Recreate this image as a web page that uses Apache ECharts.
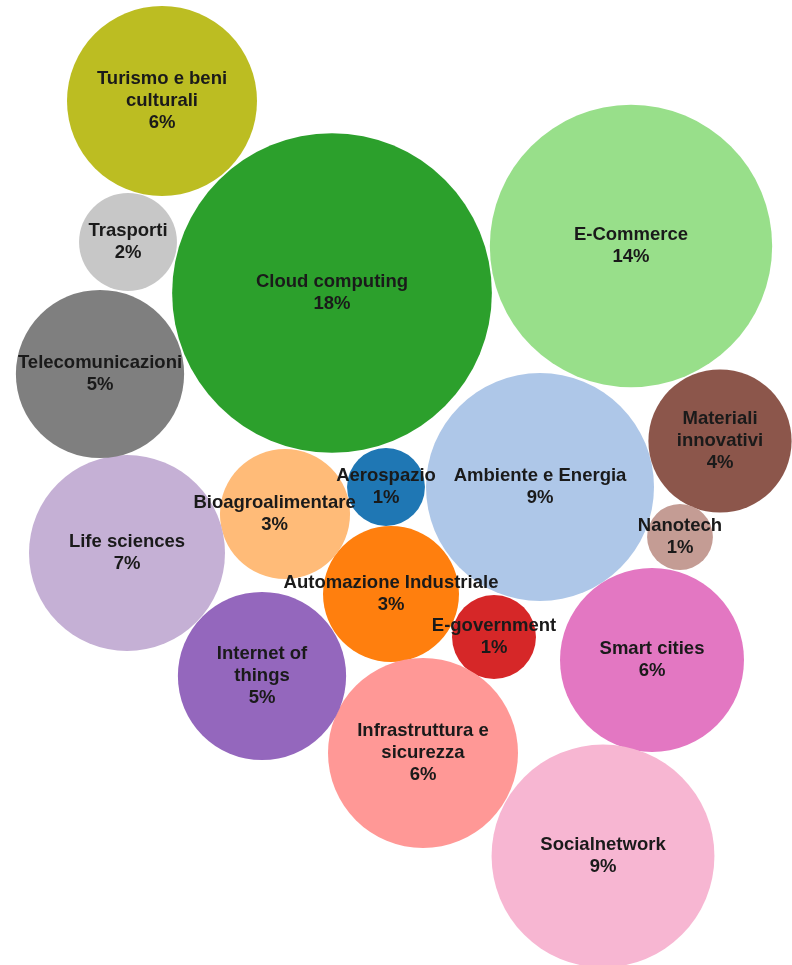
<!DOCTYPE html>
<html>
<head>
<meta charset="utf-8">
<script src="https://cdn.jsdelivr.net/npm/echarts@6/dist/echarts.min.js"></script>
<style>
html,body{margin:0;padding:0;background:#fff;}
#c{width:792px;height:965px;}
</style>
</head>
<body>
<div id="c"></div>
<script>
// Categories (sectors) and their shares (%)
const categories = [
  "Aerospazio", "Ambiente e Energia", "Automazione Industriale", "Bioagroalimentare",
  "Cloud computing", "E-Commerce", "E-government", "Infrastruttura e sicurezza",
  "Internet of things", "Life sciences", "Materiali innovativi", "Nanotech",
  "Smart cities", "Socialnetwork", "Telecomunicazioni", "Trasporti", "Turismo e beni culturali"
];
const shares = [1.05, 9.0, 3.2, 2.93, 17.7, 13.8, 1.22, 6.25, 4.9, 6.65, 3.55, 0.75, 5.86, 8.6, 4.9, 1.66, 6.25];
// Packed-layout positions of each bubble (layout space units)
const layoutX = [386, 540, 391, 285, 332, 631, 494, 423, 262, 127, 720, 680, 652, 603, 100, 128, 162];
const layoutY = [487, 487, 594, 514, 293, 246, 637, 753, 676, 553, 441, 537, 660, 856, 374, 242, 101];
// Display names with line breaks
const displayNames = {
  "Turismo e beni culturali": "Turismo e beni\nculturali",
  "Materiali innovativi": "Materiali\ninnovativi",
  "Internet of things": "Internet of\nthings",
  "Infrastruttura e sicurezza": "Infrastruttura e\nsicurezza"
};
const palette = ["#1f77b4","#aec7e8","#ff7f0e","#ffbb78","#2ca02c","#98df8a","#d62728","#ff9896",
                 "#9467bd","#c5b0d5","#8c564b","#c49c94","#e377c2","#f7b6d2","#7f7f7f","#c7c7c7","#bcbd22"];

const K = 38; // px radius per sqrt(percent)
const data = categories.map((c, i) => {
  const d = {
    name: c,
    value: [layoutX[i], layoutY[i], shares[i]],
    itemStyle: { color: palette[i] }
  };
  if (c === "Bioagroalimentare") {
    d.label = { position: ['42%', '50%'], align: 'center', verticalAlign: 'middle' };
  }
  return d;
});

const chart = echarts.init(document.getElementById('c'), null, {renderer: 'canvas'});
chart.setOption({
  animation: false,
  backgroundColor: '#fff',
  grid: { left: 0, top: 0, right: 0, bottom: 0 },
  xAxis: { type: 'value', min: 0, max: 792, show: false },
  yAxis: { type: 'value', min: 0, max: 965, inverse: true, show: false },
  series: [{
    type: 'scatter',
    data: data,
    symbol: 'circle',
    symbolSize: v => 2 * K * Math.sqrt(v[2]),
    itemStyle: { opacity: 1 },
    silent: true,
    label: {
      show: true,
      position: 'inside',
      color: '#1a1a1a',
      fontFamily: 'Liberation Sans, Arial, sans-serif',
      fontWeight: 'bold',
      fontSize: 18.5,
      lineHeight: 22,
      align: 'center',
      formatter: p => (displayNames[p.name] || p.name) + '\n' + Math.round(p.value[2]) + '%'
    },
    labelLayout: { hideOverlap: false },
    emphasis: { disabled: true }
  }]
});
</script>
</body>
</html>
